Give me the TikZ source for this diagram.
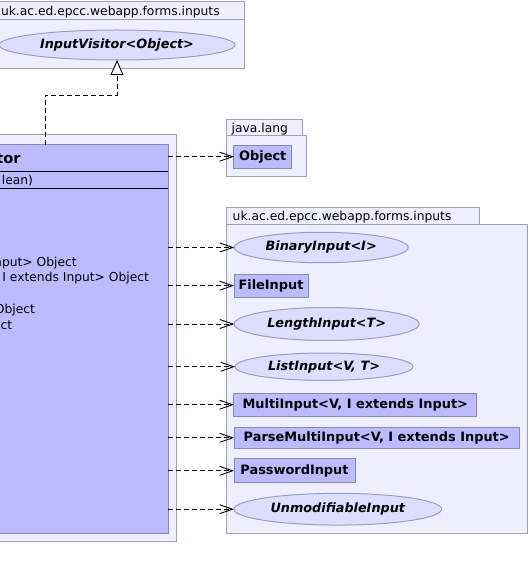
\documentclass[tikz,border=0pt]{standalone}
\usepackage{fontspec}
\setmainfont{DejaVu Sans}
\usetikzlibrary{arrows.meta,shapes.geometric}
\definecolor{pkgfill}{HTML}{EEEEFF}
\definecolor{pkgline}{HTML}{A0A0B4}
\definecolor{clsfill}{HTML}{BBBBFF}
\definecolor{clsline}{HTML}{8A8AB0}
\definecolor{ellfill}{HTML}{DDDDFF}
\definecolor{ellline}{HTML}{9C9CC0}
\tikzset{
  every node/.style={inner sep=0pt, outer sep=0pt},
  txt/.style={font=\fontsize{12.3bp}{14bp}\selectfont},
  pkg/.style={draw=pkgline, fill=pkgfill, line width=1bp},
  cls/.style={draw=clsline, fill=clsfill, line width=1bp, font=\fontsize{12.9bp}{14bp}\selectfont\bfseries},
  iface/.style={ellipse, draw=ellline, fill=ellfill, line width=1bp, font=\fontsize{12.8bp}{14bp}\selectfont\bfseries\itshape},
  dep/.style={dash pattern=on 5bp off 3bp, line width=0.9bp, -{Straight Barb[length=13bp,width=9bp,line width=0.9bp]}},
  real/.style={dash pattern=on 5bp off 3bp, line width=0.9bp, -{Triangle[open,length=15bp,width=13bp,fill=white,line width=0.9bp]}},
}
\begin{document}
\begin{tikzpicture}[x=1bp,y=-1bp]
\useasboundingbox (0,0) rectangle (530,579);
\clip (0,0) rectangle (530,579);
\fill[white] (0,0) rectangle (530,579);
% top package
\node[pkg, anchor=north west, minimum width=250bp, minimum height=18bp] (ptab1) at (-6,2) {};
\node[pkg, anchor=north west, minimum width=250bp, minimum height=49bp] (p1) at (-6,20) {};
\node[txt, anchor=base west] (p1lbl) at (1,15.4) {uk.ac.ed.epcc.webapp.forms.inputs};
\node[iface, minimum width=236bp, minimum height=30bp] (iv) at (117,45) {InputVisitor<Object>};
% java.lang package
\node[pkg, anchor=north west, minimum width=75.6bp, minimum height=16.7bp] (ptab2) at (226.7,119.3) {};
\node[pkg, anchor=north west, minimum width=80bp, minimum height=40bp] (p2) at (226.7,136) {};
\node[txt, anchor=base west] (p2lbl) at (231.7,132.7) {java.lang};
\node[cls, minimum width=57.7bp, minimum height=23.3bp] (obj) at (262.8,156.7) {Object};
% inputs package
\node[pkg, anchor=north west, minimum width=253.3bp, minimum height=16.7bp] (ptab3) at (226,207.3) {};
\node[pkg, anchor=north west, minimum width=301.7bp, minimum height=309.3bp] (p3) at (226,224) {};
\node[txt, anchor=base west] (p3lbl) at (232.7,220.5) {uk.ac.ed.epcc.webapp.forms.inputs};
\node[iface, minimum width=174bp, minimum height=30.4bp] (bin) at (321.2,247.5) {BinaryInput<I>};
\node[cls, minimum width=74bp, minimum height=23.3bp] (file) at (271,285.7) {FileInput};
\node[iface, minimum width=185bp, minimum height=33bp] (len) at (326.7,324) {LengthInput<T>};
\node[iface, minimum width=178bp, minimum height=27.4bp] (list) at (324,366.7) {ListInput<V, T>};
\node[cls, minimum width=242.7bp, minimum height=22.7bp] (multi) at (355.3,404.7) {MultiInput<V, I extends Input>};
\node[cls, minimum width=285.3bp, minimum height=21bp] (parse) at (376.7,437.8) {ParseMultiInput<V, I extends Input>};
\node[cls, minimum width=121bp, minimum height=23.7bp] (pass) at (294.5,470.8) {PasswordInput};
\node[iface, minimum width=207.7bp, minimum height=31.7bp] (unmod) at (337.8,509.2) {UnmodifiableInput};
% main class
\node[pkg, anchor=north west, minimum width=182bp, minimum height=406bp] (outer) at (-6,135) {};
\node[cls, anchor=north west, minimum width=174bp, minimum height=388bp] (vis) at (-6,145) {};
\draw[line width=1bp] (vis.west |- 0,171.7) -- (vis.east |- 0,171.7);
\draw[line width=1bp] (vis.west |- 0,188.3) -- (vis.east |- 0,188.3);
\node[anchor=base east, font=\fontsize{14.6bp}{16bp}\selectfont\bfseries] (title) at (20.7,164) {tor};
\node[txt, anchor=base east] (attr) at (33,184) {lean)};
\node[txt, anchor=base east] (m1) at (76.7,266) {nput> Object};
\node[txt, anchor=base east] (m2) at (149,281.7) {I extends Input> Object};
\node[txt, anchor=base east] (m3) at (35,313.7) {Object};
\node[txt, anchor=base east] (m4) at (12.3,329) {ct};
% connectors
\coordinate (b1) at (45,95);
\coordinate (b2) at (117,95);
\draw[real] (vis.north -| b1) -- (b1) -- (b2) -- (iv.south);
\foreach \t in {obj,bin,file,len,list,multi,parse,pass,unmod}
  \draw[dep] (vis.east |- \t.west) -- (\t.west);
\end{tikzpicture}
\end{document}
